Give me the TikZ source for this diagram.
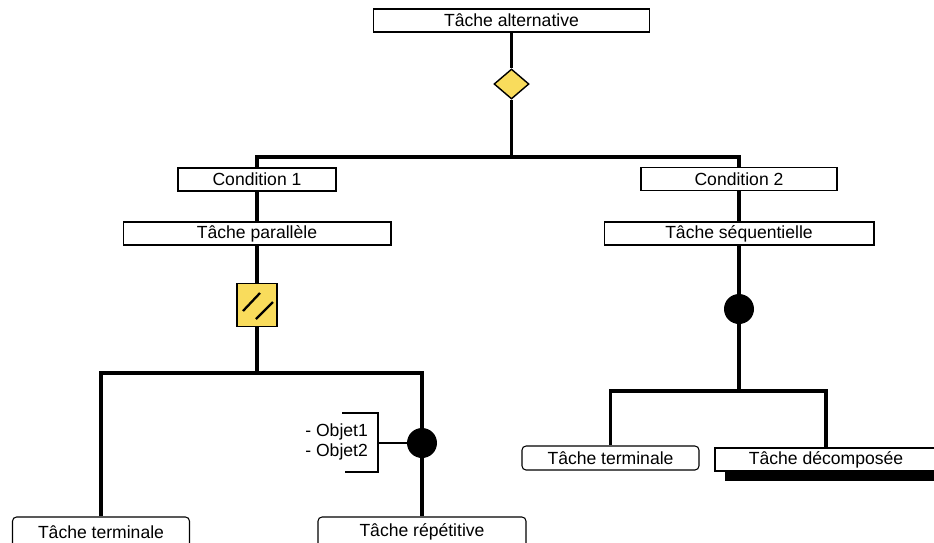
\documentclass[tikz,border=0pt]{standalone}
\usepackage{fontspec}
\setmainfont{Liberation Sans}
\usetikzlibrary{shapes.geometric, shadows, calc}
\definecolor{taskyellow}{RGB}{249,220,92}

\begin{document}
\begin{tikzpicture}[
  x=0.02cm, y=-0.02cm,
  task/.style={
    rectangle, draw, fill=white,
    line width=0.6pt, inner sep=0pt,
    minimum height=0.46cm,
    font=\normalsize
  },
  leaf/.style={
    task, rounded corners=0.08cm,
    minimum height=0.48cm
  },
  choice/.style={
    diamond, draw, fill=taskyellow,
    line width=0.8pt, inner sep=0pt,
    minimum width=0.7cm, minimum height=0.6cm
  },
  splitbox/.style={
    rectangle, draw, fill=taskyellow,
    line width=0.8pt, inner sep=0pt,
    minimum width=0.8cm, minimum height=0.86cm
  },
  dot/.style={
    circle, fill=black, inner sep=0pt,
    minimum size=0.6cm
  },
  link/.style={line width=2pt},
  bracket/.style={line width=0.6pt},
]

  \useasboundingbox (0,0) rectangle (934,542);

  % -------------------------------------------------------
  %  Nodes
  % -------------------------------------------------------
  \node[task, minimum width=5.52cm] (alt)   at (511.5, 20.5) {Tâche alternative};
  \node[choice]                     (altsym) at (511.5, 84)  {};

  \node[task, minimum width=3.16cm] (cond1) at (257, 179.5) {Condition 1};
  \node[task, minimum width=5.36cm] (par)   at (257, 233.5) {Tâche parallèle};
  \node[splitbox]                   (splitsym) at (257, 305) {};

  \node[task, minimum width=3.92cm] (cond2) at (739, 179) {Condition 2};
  \node[task, minimum width=5.4cm]  (seq)   at (739, 233.5) {Tâche séquentielle};
  \node[dot]                        (seqdot) at (739, 309) {};

  \node[leaf, minimum width=3.54cm, minimum height=0.6cm] (term1) at (101, 532) {Tâche terminale};
  \node[leaf, minimum width=4.16cm, minimum height=0.6cm] (rep)   at (422, 532) {Tâche répétitive};
  \node[dot]                        (repdot) at (422, 443) {};

  \node[leaf, minimum width=3.54cm] (term2) at (610.5, 458) {Tâche terminale};
  \node[task, minimum width=4.44cm,
        drop shadow={shadow xshift=0.2cm, shadow yshift=-0.2cm,
                     fill=black, opacity=1}]
                                    (decomp) at (826, 459.5) {Tâche décomposée};

  \node[anchor=west, align=left, inner sep=0pt,
        font=\fontsize{10}{11.5}\selectfont] (objs) at (305, 442)
        {- Objet1\\- Objet2};

  % -------------------------------------------------------
  %  Alternative
  % -------------------------------------------------------
  \coordinate (altbar) at (511.5, 157);
  \draw[link] (alt) -- (altsym);
  \draw[link] (altsym) -- (altbar);
  \draw[link] (cond1) |- (altbar) -| (cond2);

  % -------------------------------------------------------
  %  Parallel branch
  % -------------------------------------------------------
  \coordinate (parbar) at (257, 373);
  \draw[link] (cond1) -- (par);
  \draw[link] (par) -- (splitsym);
  \draw[link] (splitsym) -- (parbar);
  \draw[link] (term1) |- (parbar) -| (rep);

  \draw[line width=1.3pt] ($(splitsym)+(-14,6)$)  -- ++(17,-18);
  \draw[line width=1.3pt] ($(splitsym)+(-1,14)$)  -- ++(17,-17);

  % objects of the repetition
  \coordinate (bktop) at (342, 413);
  \coordinate (bkmid) at (378, 443);
  \coordinate (bkbot) at (345, 472);
  \draw[bracket] (bktop) -| (bkmid) |- (bkbot);
  \draw[bracket] (bkmid) -- (repdot);

  % -------------------------------------------------------
  %  Sequential branch
  % -------------------------------------------------------
  \coordinate (seqbar) at (739, 391);
  \draw[link] (cond2) -- (seq);
  \draw[link] (seq) -- (seqdot);
  \draw[link] (seqdot) -- (seqbar);
  \draw[link] (term2) |- (seqbar) -| (decomp);

\end{tikzpicture}
\end{document}
